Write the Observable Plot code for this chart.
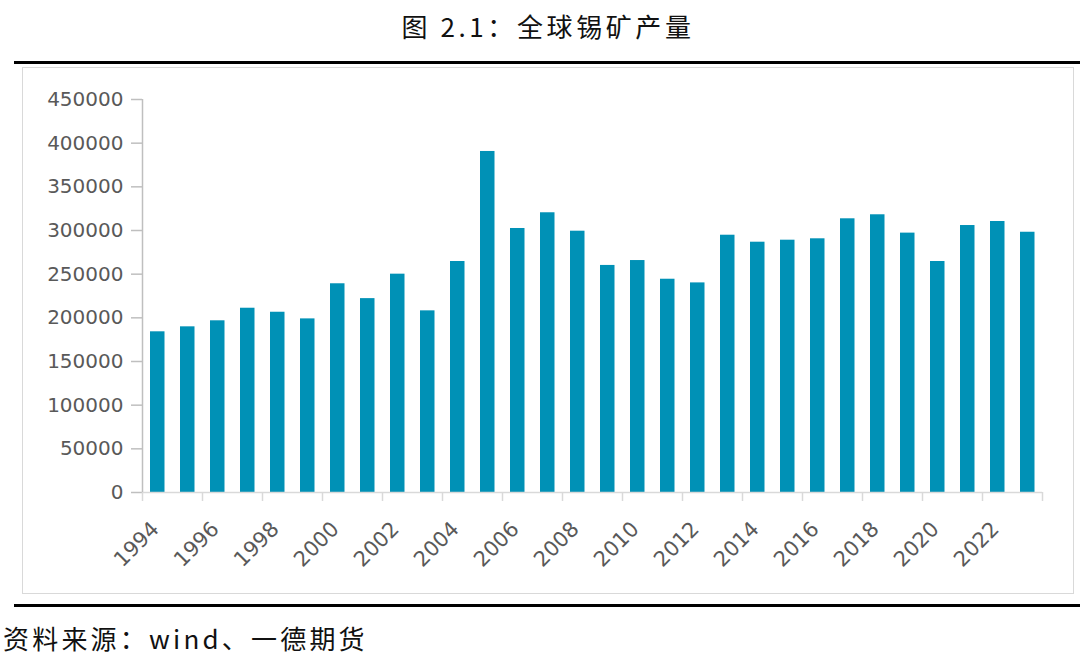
<!DOCTYPE html>
<html>
<head>
<meta charset="utf-8">
<script src="https://cdn.jsdelivr.net/npm/d3@7"></script>
<script src="https://cdn.jsdelivr.net/npm/@observablehq/plot@0.6"></script>
<style>
  html, body { margin: 0; padding: 0; background: #fff; }
  #wrap { position: relative; width: 1080px; height: 659px; overflow: hidden; background: #fff; }
  #title { position: absolute; left: 8px; top: 7px; width: 1080px; text-align: center;
    font-family: "Noto Sans CJK SC", sans-serif; font-size: 26px; color: #111; letter-spacing: 3.6px; }
  .hr { position: absolute; left: 14px; width: 1066px; height: 3px; background: #000; }
  #box { position: absolute; left: 22px; top: 67px; width: 1052px; height: 527px; border: 1.5px solid #d9d9d9; box-sizing: border-box; }
  #chart { position: absolute; left: 0; top: 67px; }
  #caption { position: absolute; left: 3px; top: 619px; font-family: "Noto Sans CJK SC", sans-serif;
    font-size: 26px; color: #111; letter-spacing: 3.2px; }
</style>
</head>
<body>
<div id="wrap">
  <div id="title">图 2.1：全球锡矿产量</div>
  <div class="hr" style="top:61px"></div>
  <div id="box"></div>
  <div id="chart"></div>
  <div class="hr" style="top:604px"></div>
  <div id="caption">资料来源：wind、一德期货</div>
</div>
<script>
const years = [1994,1995,1996,1997,1998,1999,2000,2001,2002,2003,2004,2005,2006,2007,2008,
  2009,2010,2011,2012,2013,2014,2015,2016,2017,2018,2019,2020,2021,2022,2023];
const output = [184000,189700,196600,211000,206400,198800,239000,222000,250000,208000,264500,390500,302300,320300,299200,
  260000,265600,244200,240000,294600,286600,288900,290500,313400,318000,297000,264500,305700,310300,298000];
const yTicks = [0,50000,100000,150000,200000,250000,300000,350000,400000,450000];
const xLabels = [1994,1996,1998,2000,2002,2004,2006,2008,2010,2012,2014,2016,2018,2020,2022];
const xBoundaries = [1994,1996,1998,2000,2002,2004,2006,2008,2010,2012,2014,2016,2018,2020,2022,2024];

const data = years.map((y, i) => ({year: y, value: output[i]}));

const chart = Plot.plot({
  width: 1080,
  height: 528,
  marginLeft: 142,
  marginRight: 38,
  marginTop: 32,
  marginBottom: 103,
  style: {fontFamily: "DejaVu Sans", fontSize: "20px", color: "#595959", background: "transparent"},
  x: {type: "linear", domain: [1994, 2024], axis: null},
  y: {domain: [0, 450000], axis: null},
  marks: [
    Plot.rectY(data, {x: "year", y: "value", interval: 1, fill: "#0091b6", insetLeft: 8, insetRight: 7.5}),
    Plot.ruleY([0], {stroke: "#d9d9d9", strokeWidth: 1.5}),
    Plot.ruleX([1994], {y1: 0, y2: 450000, stroke: "#bfbfbf", strokeWidth: 1.5}),
    Plot.axisY({ticks: yTicks, tickSize: 11, tickPadding: 8, tickFormat: d => String(d), stroke: "#bfbfbf", strokeWidth: 1.5, fill: "#595959", fontSize: 20, label: null}),
    Plot.axisX({ticks: xBoundaries, tickSize: 9, tickFormat: () => "", stroke: "#d9d9d9", strokeWidth: 1.5, label: null}),
    Plot.text(xLabels, {x: d => d, text: d => String(d), frameAnchor: "bottom", dx: 13, dy: 33, rotate: -45,
      textAnchor: "end", lineAnchor: "middle", fill: "#595959", fontSize: 21})
  ]
});
document.getElementById("chart").appendChild(chart);
</script>
</body>
</html>
